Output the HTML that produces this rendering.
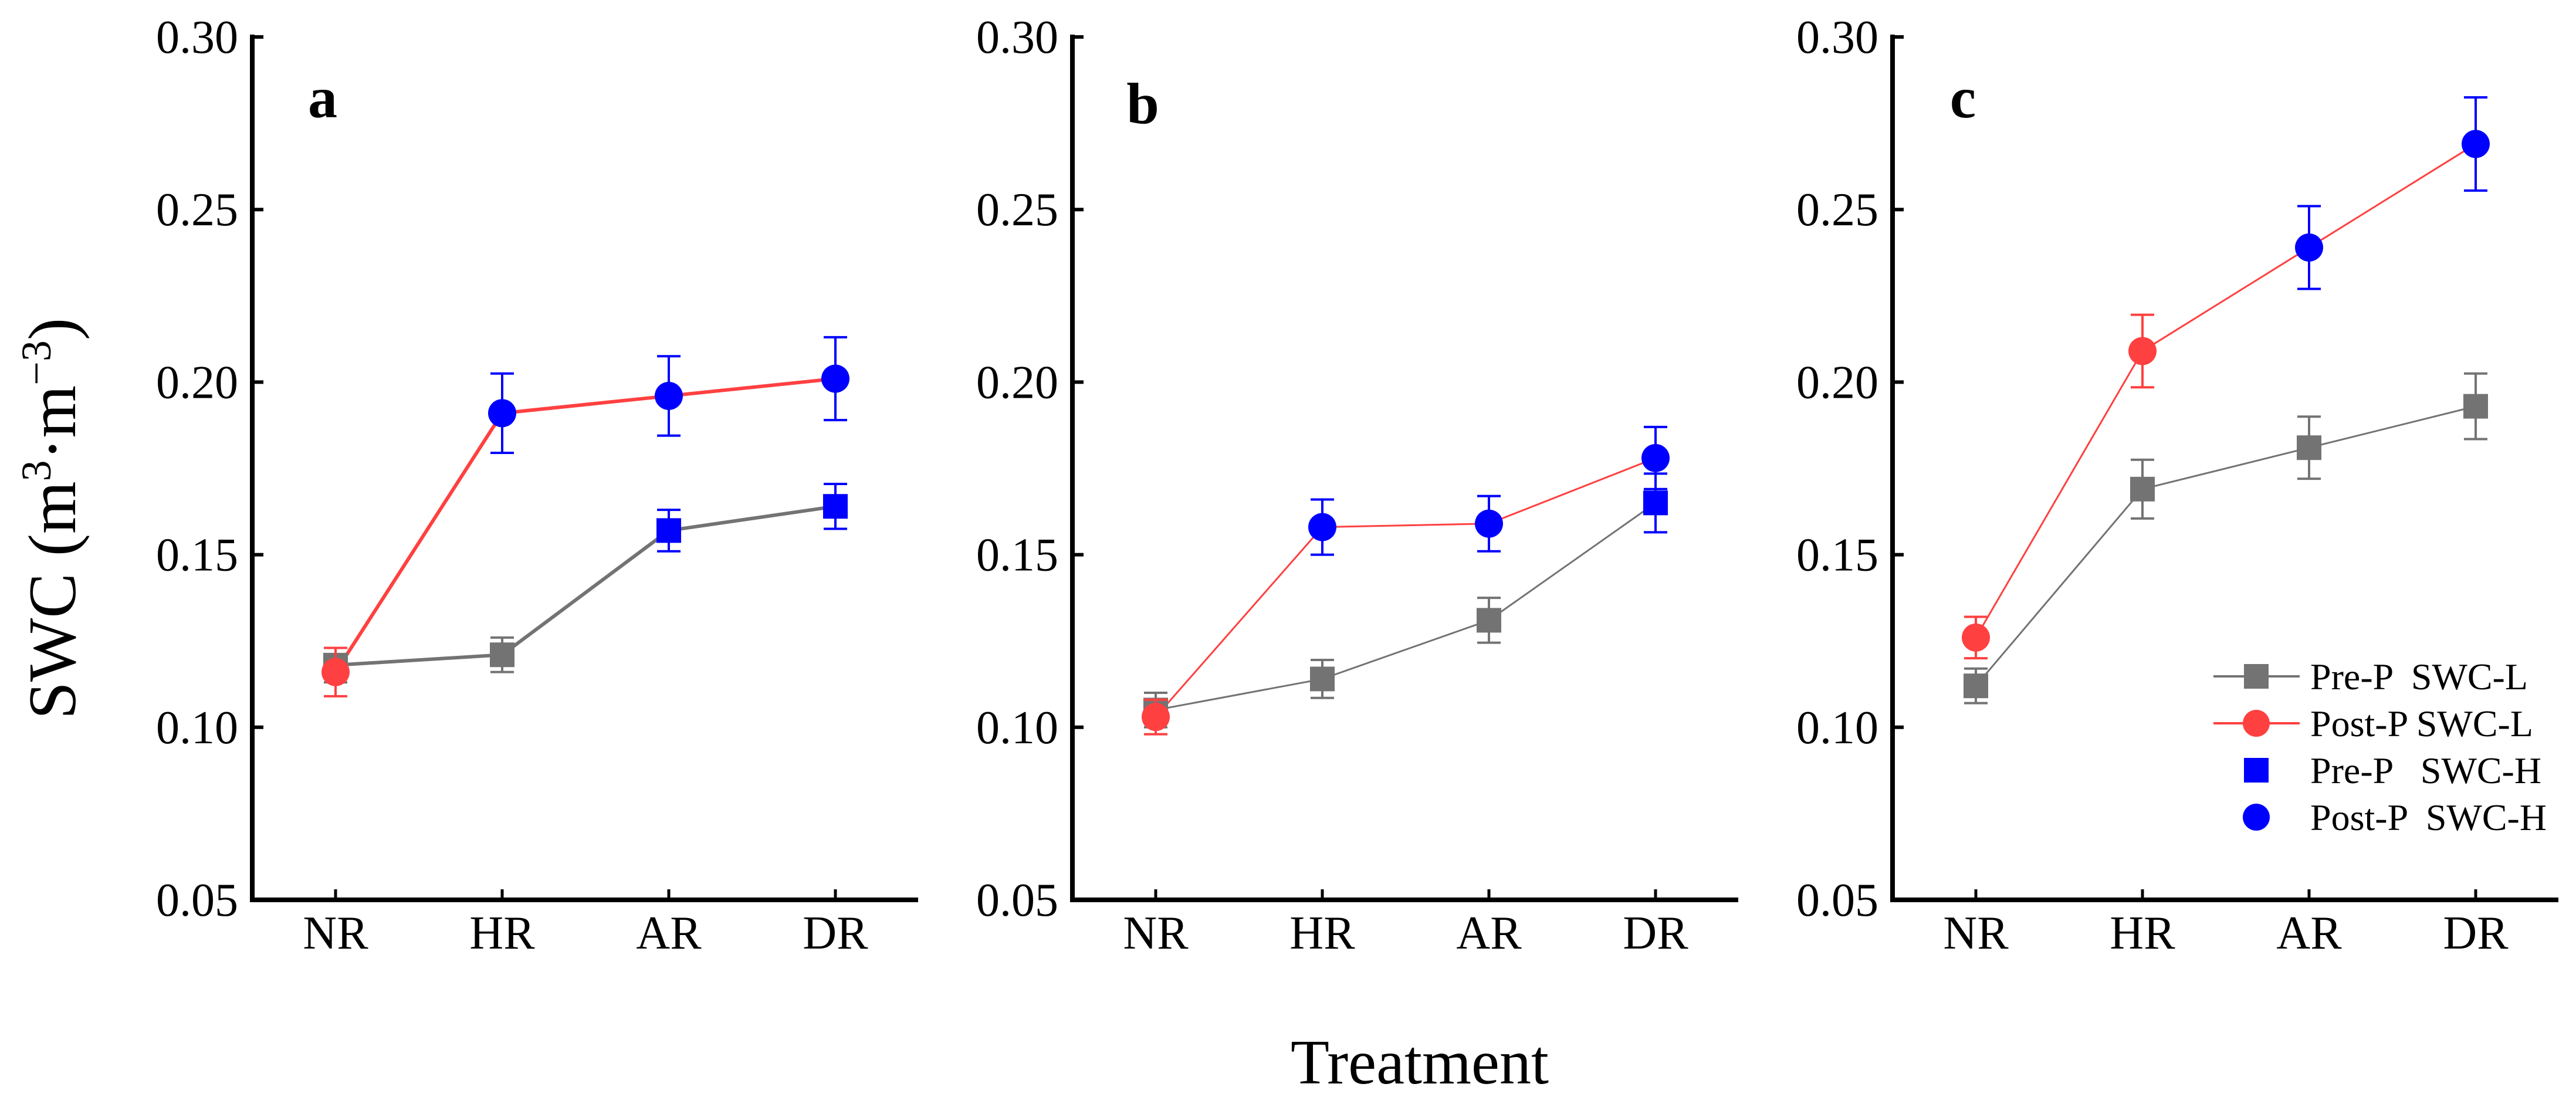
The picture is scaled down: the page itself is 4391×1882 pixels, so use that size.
<!DOCTYPE html>
<html><head><meta charset="utf-8"><style>
html,body{margin:0;padding:0;background:#fff;}
svg{display:block;font-family:"Liberation Serif","Times New Roman",serif;}
</style></head><body>
<svg id="chart" width="4391" height="1882" viewBox="0 0 4391 1882" xmlns="http://www.w3.org/2000/svg">
<text transform="translate(128,884) rotate(-90)" text-anchor="middle" font-size="115">SWC (m<tspan font-size="72" dy="-42">3</tspan><tspan dy="42">·m</tspan><tspan font-size="72" dy="-42">−3</tspan><tspan dy="42">)</tspan></text>
<text x="2420" y="1847" text-anchor="middle" font-size="108">Treatment</text>
<g id="legend">
 <g><line x1="3773" y1="1153" x2="3920" y2="1153" stroke="#737373" stroke-width="4"/><rect x="3825" y="1132" width="42" height="42" fill="#737373"/><text x="3938" y="1175" font-size="64" xml:space="preserve">Pre-P  SWC-L</text></g>
 <g><line x1="3773" y1="1233" x2="3920" y2="1233" stroke="#ff4040" stroke-width="4"/><ellipse cx="3846" cy="1233" rx="23" ry="23" fill="#ff4040"/><text x="3938" y="1255" font-size="64" xml:space="preserve">Post-P SWC-L</text></g>
 <g><rect x="3825" y="1292" width="42" height="42" fill="#0000ff"/><text x="3938" y="1335" font-size="64" xml:space="preserve">Pre-P   SWC-H</text></g>
 <g><ellipse cx="3846" cy="1393" rx="23" ry="23" fill="#0000ff"/><text x="3938" y="1415" font-size="64" xml:space="preserve">Post-P  SWC-H</text></g>
</g>
</svg>
<script>
const categories = ["NR","HR","AR","DR"];
const yTicks = [0.05,0.10,0.15,0.20,0.25,0.30];
const panelLabels = ["a","b","c"];
const preA = [0.118,0.121,0.157,0.164];
const preErrA = [0.005,0.005,0.006,0.0065];
const preHighA = [false,false,true,true];
const postA = [0.116,0.191,0.196,0.201];
const postErrA = [0.007,0.0115,0.0115,0.012];
const postHighA = [false,true,true,true];
const preB = [0.105,0.114,0.131,0.165];
const preErrB = [0.005,0.0055,0.0065,0.0085];
const preHighB = [false,false,false,true];
const postB = [0.103,0.158,0.159,0.178];
const postErrB = [0.005,0.008,0.008,0.009];
const postHighB = [false,true,true,true];
const preC = [0.112,0.169,0.181,0.193];
const preErrC = [0.005,0.0085,0.009,0.0095];
const preHighC = [false,false,false,false];
const postC = [0.126,0.209,0.239,0.269];
const postErrC = [0.006,0.0105,0.012,0.0135];
const postHighC = [false,false,true,true];

const NS="http://www.w3.org/2000/svg";
const svg=document.getElementById('chart');
const legend=document.getElementById('legend');
const Y0=1534, Y1=63, YMIN=0.05, YMAX=0.30;
function yScale(v){return Y0-(v-YMIN)/(YMAX-YMIN)*(Y0-Y1);}
function mk(tag,attrs,parent){const e=document.createElementNS(NS,tag);for(const k in attrs)e.setAttribute(k,attrs[k]);(parent||svg).appendChild(e);return e;}
const panels=[
 {ax:430,pre:preA,preErr:preErrA,preH:preHighA,post:postA,postErr:postErrA,postH:postHighA,lw:6},
 {ax:1828,pre:preB,preErr:preErrB,preH:preHighB,post:postB,postErr:postErrB,postH:postHighB,lw:3},
 {ax:3226,pre:preC,preErr:preErrC,preH:preHighC,post:postC,postErr:postErrC,postH:postHighC,lw:3}
];
panels.forEach((p,pi)=>{
 const g=mk('g',{});
 
 
 const xScale=i=>p.ax+142+284*i;
 yTicks.forEach(t=>{
  const y=yScale(t);
  const tk=mk('line',{x1:p.ax,y1:y,x2:p.ax+19,y2:y,stroke:'#000','stroke-width':6},g);
  
  
  const lb=mk('text',{x:p.ax-24,y:y+27,'text-anchor':'end','font-size':80},g);
  
  
  lb.textContent=t.toFixed(2);
 });
 categories.forEach((c,i)=>{
  const x=xScale(i);
  const tk=mk('line',{x1:x,y1:Y0,x2:x,y2:Y0-18,stroke:'#000','stroke-width':5},g);
  
  
  const lb=mk('text',{x:x,y:1617,'text-anchor':'middle','font-size':80},g);
  
  
  lb.textContent=c;
 });
 const ya=mk('line',{x1:p.ax,y1:Y1-4,x2:p.ax,y2:Y0+4,stroke:'#000','stroke-width':8},g);
 
 
 const xa=mk('line',{x1:p.ax-4,y1:Y0,x2:p.ax+1135,y2:Y0,stroke:'#000','stroke-width':8},g);
 
 
 const pl=mk('text',{x:xScale(0)-22,y:pi===1?210:200,'text-anchor':'middle','font-size':100,'font-weight':'bold'},g);
 
 
 pl.textContent=panelLabels[pi];
 const series=[
  {vals:p.pre,err:p.preErr,hi:p.preH,col:'#737373',shape:'sq',name:'pre-p'},
  {vals:p.post,err:p.postErr,hi:p.postH,col:'#ff4040',shape:'ci',name:'post-p'}
 ];
 series.forEach(s=>{
  const pts=s.vals.map((v,i)=>xScale(i)+','+yScale(v)).join(' ');
  const ln=mk('polyline',{points:pts,fill:'none',stroke:s.col,'stroke-width':p.lw},g);
  
  
 });
 series.forEach(s=>{
  s.vals.forEach((v,i)=>{
   const x=xScale(i), y=yScale(v), col=s.hi[i]?'#0000ff':s.col;
   const e1=yScale(v+s.err[i]), e2=yScale(v-s.err[i]);
   const eb=mk('path',{d:`M${x},${e1}V${e2}M${x-20},${e1}H${x+20}M${x-20},${e2}H${x+20}`,stroke:col,'stroke-width':4,fill:'none'},g);
   
   
   let m;
   if(s.shape==='sq') m=mk('rect',{x:x-21,y:y-21,width:42,height:42,fill:col},g);
   else m=mk('circle',{cx:x,cy:y,r:24,fill:col},g);
   
   
  });
 });
});
svg.appendChild(legend);
</script>
</body></html>
